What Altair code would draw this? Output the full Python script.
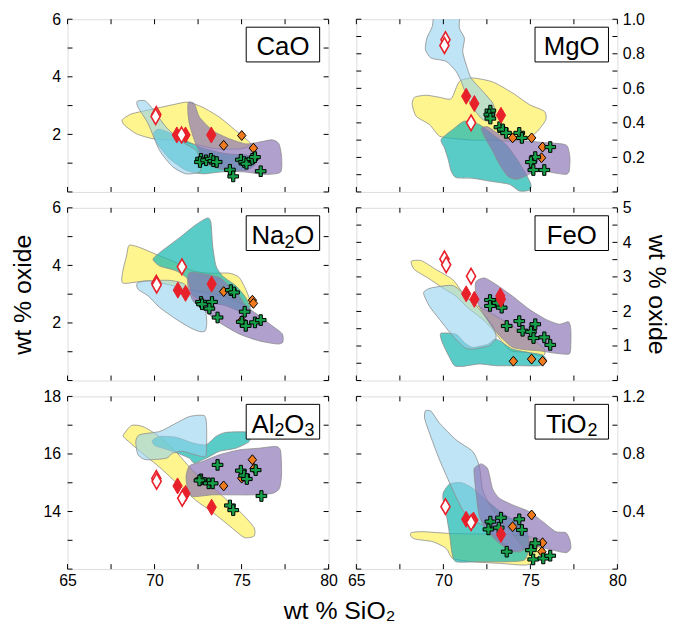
import json
import altair as alt
import pandas as pd

FONT = "Liberation Sans, Arial, Helvetica, sans-serif"

# ---------------- CaO ----------------
CAO_YELLOW = [(68.14,2.50),(68.67,2.71),(69.91,2.88),(71.05,3.03),(71.91,3.12),(72.77,2.94),(73.72,2.60),(74.67,2.13),(75.53,1.67),(74.96,1.50),(73.53,1.50),(72.58,1.62),(71.24,1.79),(69.91,1.85),(68.96,2.02),(68.29,2.31)]
CAO_BLUE = [(69.00,3.15),(69.44,3.17),(69.82,2.94),(70.67,2.25),(71.62,1.73),(72.39,1.44),(72.67,0.98),(72.58,0.69),(71.81,0.63),(71.05,0.87),(70.29,1.44),(69.63,2.37),(69.05,2.94)]
CAO_TEAL = [(69.97,2.08),(70.29,2.18),(71.24,1.96),(72.58,1.56),(74.10,1.33),(75.43,1.27),(75.81,0.98),(75.24,0.75),(73.72,0.69),(72.77,0.63),(71.81,0.75),(70.86,1.15),(70.29,1.56),(70.01,1.85)]
CAO_PURPLE = [(71.95,3.12),(72.29,3.06),(72.58,2.60),(73.34,2.13),(74.29,1.85),(75.24,1.67),(76.00,1.73),(76.76,1.81),(77.15,1.67),(77.30,1.21),(77.24,0.69),(76.38,0.61),(75.24,0.69),(74.10,0.75),(73.15,0.92),(72.67,1.27),(72.29,1.79),(72.00,2.37),(71.91,2.83)]
CAO_OPEN = [(70.10,2.69),(70.06,2.62),(71.55,1.98)]
CAO_RED = [(71.28,1.98),(71.78,1.98),(73.26,1.98)]
CAO_ORANGE = [(75.01,1.96),(73.97,1.62),(75.68,1.52),(75.72,1.15)]
CAO_GREEN = [(72.67,1.15),(72.61,1.04),(72.96,1.10),(73.24,1.15),(73.38,1.07),(73.57,1.04),(74.96,1.12),(75.15,1.04),(75.28,0.98),(75.62,1.15),(75.77,1.21),(74.33,0.77),(74.52,0.54),(76.10,0.72)]

# ---------------- MgO ----------------
MGO_YELLOW = [(68.21,0.506),(68.34,0.548),(69.01,0.560),(69.78,0.548),(70.45,0.540),(70.92,0.640),(71.69,0.660),(72.83,0.637),(73.98,0.573),(74.94,0.506),(75.80,0.467),(75.89,0.419),(75.41,0.352),(74.75,0.304),(73.79,0.294),(72.83,0.300),(71.69,0.300),(70.54,0.310),(69.78,0.323),(69.20,0.390),(68.44,0.438)]
MGO_BLUE = [(69.55,1.04),(70.85,1.04),(70.92,0.948),(71.21,0.890),(71.11,0.813),(71.31,0.737),(71.59,0.660),(72.26,0.583),(72.83,0.515),(72.99,0.448),(72.74,0.410),(72.26,0.419),(71.69,0.487),(71.31,0.563),(71.02,0.640),(70.73,0.698),(70.16,0.756),(69.30,0.775),(68.97,0.823),(69.05,0.890),(69.36,0.958)]
MGO_TEAL = [(69.87,0.304),(70.54,0.362),(71.21,0.410),(72.07,0.390),(72.83,0.333),(73.60,0.275),(74.17,0.198),(74.65,0.121),(75.03,0.044),(74.94,0.010),(74.36,0.006),(73.79,0.044),(72.64,0.063),(71.69,0.079),(70.73,0.083),(70.45,0.121),(70.25,0.198),(70.06,0.256)]
MGO_PURPLE = [(72.17,0.367),(72.55,0.377),(73.22,0.333),(73.98,0.304),(74.94,0.294),(75.89,0.285),(76.75,0.279),(77.13,0.265),(77.27,0.198),(77.23,0.121),(77.04,0.102),(76.27,0.112),(75.51,0.131),(74.74,0.092),(74.17,0.073),(73.69,0.092),(73.22,0.160),(72.83,0.237),(72.45,0.304)]
MGO_OPEN = [(70.12,0.881),(70.06,0.848),(71.59,0.400)]
MGO_RED = [(71.31,0.554),(71.78,0.512),(73.31,0.444)]
MGO_ORANGE = [(73.98,0.313),(75.07,0.313),(75.70,0.260),(75.64,0.198)]
MGO_GREEN = [(72.70,0.471),(72.64,0.448),(72.70,0.425),(73.22,0.375),(73.41,0.362),(73.60,0.342),(74.36,0.342),(74.51,0.313),(76.14,0.260),(75.28,0.202),(75.03,0.173),(75.17,0.127),(75.80,0.127)]

# ---------------- Na2O ----------------
NA2O_YELLOW = [(68.54,4.70),(69.15,4.62),(70.10,4.38),(71.24,4.10),(72.20,3.81),(73.15,3.73),(74.29,3.73),(74.86,3.58),(75.24,3.17),(75.53,2.71),(75.47,2.54),(74.86,2.71),(73.91,2.94),(72.96,3.06),(71.81,3.17),(70.67,3.35),(69.53,3.46),(68.20,3.38),(68.16,3.75),(68.39,4.33)]
NA2O_TEAL = [(73.05,5.65),(73.24,5.48),(73.34,4.67),(73.53,3.98),(73.91,3.63),(74.67,3.29),(75.24,2.88),(75.53,2.42),(75.05,2.37),(74.10,2.60),(73.15,2.71),(72.20,2.94),(71.91,3.52),(71.24,3.81),(70.29,3.98),(69.91,4.21),(70.29,4.44),(71.43,4.96),(72.39,5.42)]
NA2O_BLUE = [(69.00,3.38),(69.53,3.46),(70.86,3.48),(71.72,3.35),(72.10,2.94),(72.58,2.71),(72.92,2.42),(73.00,2.02),(72.92,1.73),(72.58,1.70),(72.00,1.85),(71.24,2.13),(70.29,2.54),(69.63,2.94),(69.05,3.17)]
NA2O_PURPLE = [(72.00,3.75),(72.96,3.69),(73.72,3.58),(74.10,3.40),(74.86,2.94),(75.24,2.60),(76.00,2.25),(76.76,1.90),(77.34,1.62),(77.37,1.33),(77.05,1.27),(76.00,1.38),(74.86,1.62),(73.72,2.02),(72.77,2.48),(72.20,2.77),(71.91,3.29)]
NA2O_OPEN = [(71.57,3.95),(70.10,3.38),(70.12,3.32)]
NA2O_RED = [(71.34,3.14),(71.78,3.03),(73.28,3.35)]
NA2O_ORANGE = [(73.97,3.09),(75.62,2.79),(75.68,2.68),(75.01,2.08)]
NA2O_GREEN = [(72.67,2.73),(72.73,2.65),(73.30,2.73),(73.15,2.50),(73.62,2.19),(74.38,3.14),(74.57,3.06),(75.18,2.39),(75.01,2.04),(75.24,1.90),(75.77,2.02),(76.10,2.10)]

# ---------------- FeO ----------------
FEO_YELLOW = [(68.15,3.45),(68.73,3.47),(69.59,3.21),(70.54,2.92),(71.11,2.54),(71.69,2.25),(72.83,1.92),(73.98,1.58),(75.13,1.20),(75.80,0.91),(75.74,0.72),(74.75,0.81),(73.89,0.86),(73.41,1.10),(72.83,1.48),(72.26,1.77),(71.40,2.11),(70.73,2.44),(69.97,2.68),(69.11,2.97),(68.34,3.21)]
FEO_TEAL = [(69.87,1.37),(70.73,1.34),(71.21,1.10),(71.69,0.96),(72.55,1.05),(73.03,1.20),(73.98,0.91),(74.94,0.81),(75.70,0.74),(75.93,0.57),(75.51,0.43),(74.36,0.43),(73.03,0.43),(72.07,0.48),(71.11,0.41),(70.64,0.43),(70.35,0.67),(70.06,0.96),(69.87,1.20)]
FEO_BLUE = [(68.86,2.54),(69.30,2.68),(70.54,2.75),(71.31,2.44),(72.07,2.06),(72.83,1.58),(73.03,1.24),(72.64,1.01),(71.69,0.91),(71.21,0.96),(70.54,1.29),(69.78,1.77),(69.20,2.15)]
FEO_PURPLE = [(71.88,2.87),(72.36,2.97),(73.03,2.78),(73.98,2.44),(74.94,2.06),(75.89,1.77),(76.66,1.63),(77.19,1.70),(77.32,1.48),(77.32,1.01),(77.23,0.77),(76.46,0.79),(75.51,0.86),(74.75,0.89),(73.98,0.96),(73.41,1.20),(72.83,1.53),(72.26,1.96),(71.97,2.25),(71.84,2.63)]
FEO_OPEN = [(70.06,3.52),(70.16,3.35),(71.59,3.02)]
FEO_RED = [(71.31,2.51),(71.78,2.35),(73.31,2.35),(73.27,2.45)]
FEO_ORANGE = [(74.02,0.56),(75.07,0.62),(75.70,0.56)]
FEO_GREEN = [(72.68,2.33),(72.68,2.16),(73.12,2.25),(73.35,2.11),(73.64,1.58),(74.36,1.72),(74.55,1.44),(75.03,1.41),(75.28,1.63),(75.18,1.23),(75.80,1.25),(76.14,1.03)]

# ---------------- Al2O3 ----------------
AL2O3_YELLOW = [(68.20,16.64),(68.67,16.99),(69.34,16.95),(70.29,16.60),(71.24,16.07),(72.20,15.42),(73.15,14.96),(74.10,14.43),(75.05,13.91),(75.72,13.44),(75.72,13.15),(75.15,13.10),(74.29,13.51),(73.34,13.97),(72.39,14.38),(71.43,14.90),(70.29,15.54),(69.34,16.00),(68.48,16.45)]
AL2O3_TEAL = [(69.87,16.47),(70.29,16.61),(71.24,16.58),(72.20,16.38),(72.96,16.32),(73.53,16.61),(74.10,16.75),(75.43,16.75),(75.43,16.43),(74.67,16.20),(73.72,16.09),(72.96,15.85),(72.29,15.68),(72.01,15.85),(71.24,16.05),(70.48,16.20),(70.01,16.29)]
AL2O3_BLUE = [(68.92,16.43),(69.15,16.67),(70.29,16.78),(71.05,17.01),(72.01,17.30),(72.86,17.33),(72.99,16.96),(72.96,15.97),(72.58,15.93),(71.62,16.09),(71.05,16.03),(70.67,15.85),(69.53,15.80),(69.05,15.97)]
AL2O3_PURPLE = [(72.01,15.59),(72.77,15.74),(73.72,15.97),(74.86,16.14),(76.00,16.20),(76.95,16.26),(77.24,16.12),(77.30,15.33),(77.18,14.81),(76.76,14.63),(75.62,14.58),(74.48,14.58),(73.34,14.58),(72.20,14.52),(71.91,14.75),(71.81,15.21)]
AL2O3_OPEN = [(70.10,15.15),(70.12,15.05),(71.59,14.46)]
AL2O3_RED = [(71.32,14.89),(71.78,14.63),(71.68,14.55),(73.28,14.15)]
AL2O3_ORANGE = [(75.62,15.80),(73.97,14.89),(75.01,15.16),(75.72,15.50)]
AL2O3_GREEN = [(73.62,15.62),(72.67,15.12),(72.58,15.08),(73.11,14.98),(73.34,14.98),(74.96,15.42),(75.15,15.25),(75.30,15.13),(75.81,15.44),(76.14,14.54),(74.33,14.21),(74.52,14.05)]

# ---------------- TiO2 ----------------
TIO2_YELLOW = [(68.15,0.253),(68.82,0.260),(70.35,0.248),(72.07,0.244),(73.60,0.244),(74.94,0.225),(75.60,0.202),(75.74,0.156),(75.32,0.063),(74.75,0.028),(73.22,0.040),(71.69,0.051),(70.54,0.074),(70.16,0.144),(69.40,0.190),(68.44,0.207),(68.15,0.225)]
TIO2_TEAL = [(70.02,0.538),(70.36,0.592),(71.02,0.601),(71.69,0.562),(72.45,0.480),(73.41,0.388),(74.36,0.318),(74.84,0.248),(74.90,0.144),(74.65,0.063),(73.60,0.051),(72.07,0.051),(70.73,0.051),(70.50,0.109),(70.35,0.248),(70.12,0.411),(69.97,0.492)]
TIO2_BLUE = [(68.97,1.100),(69.30,1.096),(69.78,1.014),(70.73,0.898),(71.69,0.817),(72.07,0.713),(72.26,0.550),(72.83,0.411),(73.79,0.272),(74.55,0.156),(74.46,0.121),(73.89,0.132),(73.03,0.225),(72.26,0.306),(71.59,0.341),(71.11,0.411),(70.54,0.550),(69.78,0.759),(69.20,0.945),(68.92,1.049)]
TIO2_PURPLE = [(71.78,0.701),(72.17,0.731),(72.55,0.696),(72.83,0.557),(73.22,0.492),(73.98,0.446),(74.94,0.399),(75.70,0.330),(76.46,0.260),(77.04,0.253),(77.27,0.202),(77.32,0.144),(77.04,0.114),(76.27,0.132),(75.32,0.156),(74.55,0.132),(73.98,0.121),(73.22,0.179),(72.55,0.260),(72.07,0.364),(71.88,0.527),(71.78,0.643)]
TIO2_OPEN = [(70.12,0.434),(71.59,0.323)]
TIO2_RED = [(71.31,0.346),(71.73,0.341),(73.31,0.241)]
TIO2_ORANGE = [(75.07,0.376),(73.98,0.295),(75.70,0.183),(75.66,0.121)]
TIO2_GREEN = [(72.70,0.330),(72.59,0.276),(73.31,0.357),(73.18,0.288),(74.36,0.346),(74.51,0.272),(75.28,0.179),(75.03,0.132),(73.64,0.121),(75.16,0.067),(75.74,0.074),(76.14,0.093)]

X_TICKS = [65, 67.5, 70, 72.5, 75, 77.5, 80]
X_LABELS = [65, 70, 75, 80]

# panel label pieces: (text, is_subscript)
PANELS = [
    dict(label=[("CaO", False)], domain=[0, 6], ticks=[0, 1, 2, 3, 4, 5, 6], labels=[2, 4, 6], fmt="d",
         polys=dict(yellow=CAO_YELLOW, teal=CAO_TEAL, blue=CAO_BLUE, purple=CAO_PURPLE),
         pts=dict(orange=CAO_ORANGE, green=CAO_GREEN, red=CAO_RED, open=CAO_OPEN)),
    dict(label=[("MgO", False)], domain=[0, 1.0], ticks=[0, 0.1, 0.2, 0.3, 0.4, 0.5, 0.6, 0.7, 0.8, 0.9, 1.0],
         labels=[0.2, 0.4, 0.6, 0.8, 1.0], fmt=".1f",
         polys=dict(yellow=MGO_YELLOW, teal=MGO_TEAL, blue=MGO_BLUE, purple=MGO_PURPLE),
         pts=dict(orange=MGO_ORANGE, green=MGO_GREEN, red=MGO_RED, open=MGO_OPEN)),
    dict(label=[("Na", False), ("2", True), ("O", False)], domain=[0, 6], ticks=[0, 1, 2, 3, 4, 5, 6],
         labels=[2, 4, 6], fmt="d",
         polys=dict(yellow=NA2O_YELLOW, teal=NA2O_TEAL, blue=NA2O_BLUE, purple=NA2O_PURPLE),
         pts=dict(orange=NA2O_ORANGE, green=NA2O_GREEN, red=NA2O_RED, open=NA2O_OPEN)),
    dict(label=[("FeO", False)], domain=[0, 5], ticks=[0, 0.5, 1, 1.5, 2, 2.5, 3, 3.5, 4, 4.5, 5],
         labels=[1, 2, 3, 4, 5], fmt="d",
         polys=dict(yellow=FEO_YELLOW, teal=FEO_TEAL, blue=FEO_BLUE, purple=FEO_PURPLE),
         pts=dict(orange=FEO_ORANGE, green=FEO_GREEN, red=FEO_RED, open=FEO_OPEN)),
    dict(label=[("Al", False), ("2", True), ("O", False), ("3", True)], domain=[12, 18],
         ticks=[12, 13, 14, 15, 16, 17, 18], labels=[14, 16, 18], fmt="d",
         polys=dict(yellow=AL2O3_YELLOW, teal=AL2O3_TEAL, blue=AL2O3_BLUE, purple=AL2O3_PURPLE),
         pts=dict(orange=AL2O3_ORANGE, green=AL2O3_GREEN, red=AL2O3_RED, open=AL2O3_OPEN)),
    dict(label=[("TiO", False), ("2", True)], domain=[0, 1.2], ticks=[0, 0.2, 0.4, 0.6, 0.8, 1.0, 1.2],
         labels=[0.4, 0.8, 1.2], fmt=".1f",
         polys=dict(yellow=TIO2_YELLOW, teal=TIO2_TEAL, blue=TIO2_BLUE, purple=TIO2_PURPLE),
         pts=dict(orange=TIO2_ORANGE, green=TIO2_GREEN, red=TIO2_RED, open=TIO2_OPEN)),
]

POLY_STYLE = [("yellow", "#FFEE44", 0.6), ("teal", "#1AB9B3", 0.72),
              ("blue", "#93D2EE", 0.6), ("purple", "#8973B5", 0.68)]

TALL_DIAMOND = "M0,-1L0.58,0L0,1L-0.58,0Z"
SMALL_DIAMOND = "M0,-1L0.85,0L0,1L-0.85,0Z"
PLUS = "M-0.3,-1H0.3V-0.3H1V0.3H0.3V1H-0.3V0.3H-1V-0.3H-0.3Z"
POINT_STYLE = [
    ("orange", dict(shape=SMALL_DIAMOND, fill="#F07A1E", stroke="black", strokeWidth=1, size=100)),
    ("green", dict(shape=PLUS, fill="#17A04A", stroke="black", strokeWidth=1, size=115)),
    ("red", dict(shape=TALL_DIAMOND, fill="#E8202A", stroke="#E8202A", strokeWidth=1, size=260)),
    ("open", dict(shape=TALL_DIAMOND, fill="white", stroke="#E8202A", strokeWidth=1.6, size=250)),
]

# approximate Arial/Liberation Sans advance widths (em)
CHAR_W = {"C": .722, "a": .556, "O": .778, "M": .833, "g": .556, "N": .722, "F": .611, "e": .556,
          "A": .667, "l": .222, "T": .611, "i": .222, "2": .556, "3": .556}
MAIN_FS, SUB_FS = 26, 18

W, H = 263, 174
TICK = 5


def x_axis(show_labels):
    kw = dict(orient="bottom", values=X_TICKS, domain=False, grid=False, ticks=False, tickSize=0,
              labels=show_labels)
    if show_labels:
        kw.update(labelExpr="indexof(%s, datum.value) >= 0 ? format(datum.value, 'd') : ''" % json.dumps(X_LABELS),
                  labelFont=FONT, labelFontSize=16, labelColor="black", labelPadding=4,
                  labelFlush=False, labelOverlap=False)
    return alt.Axis(**kw)


def y_axis(orient, p, title):
    kw = dict(orient=orient, values=p["ticks"], domain=False, grid=False, ticks=False, tickSize=0,
              labels=True,
              labelExpr="indexof(%s, datum.value) >= 0 ? format(datum.value, '%s') : ''" % (json.dumps(p["labels"]), p["fmt"]),
              labelFont=FONT, labelFontSize=16, labelColor="black",
              labelPadding=7 if orient == "left" else 5, labelFlush=False, labelOverlap=False)
    if title:
        kw.update(titleFont=FONT, titleFontSize=25, titleFontWeight="normal", titleColor="black",
                  titlePadding=16 if orient == "left" else 12)
    return alt.Axis(**kw)


def to_df(pts):
    return pd.DataFrame({"x": [a for a, b in pts], "y": [b for a, b in pts], "i": list(range(len(pts)))})


def label_layers(parts):
    widths = [sum(CHAR_W[c] for c in t) * (SUB_FS if sub else MAIN_FS) for t, sub in parts]
    x0 = 217 - sum(widths) / 2
    out = []
    for (t, sub), w in zip(parts, widths):
        df = pd.DataFrame({"t": [t]})
        out.append(
            alt.Chart(df).mark_text(font=FONT, fontSize=SUB_FS if sub else MAIN_FS, color="black",
                                    align="left", baseline="alphabetic")
            .encode(x=alt.value(x0), y=alt.value(40 if sub else 36.5), text="t:N")
        )
        x0 += w
    return out


def panel(p, row, col):
    xs = alt.Scale(domain=[65, 80], nice=False, zero=False)
    ys = alt.Scale(domain=p["domain"], nice=False, zero=False)
    main_side = "left" if col == 0 else "right"
    title = "wt % oxide" if row == 1 else None
    layers = []
    for k, (name, color, op) in enumerate(POLY_STYLE):
        df = to_df(p["polys"][name])
        if k == 0:
            xe = alt.X("x:Q", scale=xs, axis=x_axis(row == 2), title=None)
            ye = alt.Y("y:Q", scale=ys, axis=y_axis(main_side, p, title), title=title)
        else:
            xe = alt.X("x:Q", scale=xs, axis=None)
            ye = alt.Y("y:Q", scale=ys, axis=None)
        layers.append(
            alt.Chart(df).mark_line(interpolate="cardinal-closed", tension=0.35, fill=color,
                                    fillOpacity=op, stroke="#8c8c8c", strokeWidth=0.8, clip=True)
            .encode(x=xe, y=ye, order=alt.Order("i:Q"))
        )
    for name, st in POINT_STYLE:
        df = to_df(p["pts"][name])
        layers.append(
            alt.Chart(df).mark_point(filled=True, opacity=1, **st)
            .encode(x=alt.X("x:Q", scale=xs, axis=None), y=alt.Y("y:Q", scale=ys, axis=None))
        )
    # inward tick marks on all four sides, placed through the scales
    ydf = pd.DataFrame({"v": p["ticks"]})
    xdf = pd.DataFrame({"v": X_TICKS})
    for a, b in [(0, TICK), (W - TICK, W)]:
        layers.append(
            alt.Chart(ydf).mark_rule(color="black", strokeWidth=1)
            .encode(y=alt.Y("v:Q", scale=ys, axis=None), x=alt.value(a), x2=alt.value(b))
        )
    for a, b in [(H - TICK, H), (0, TICK)]:
        layers.append(
            alt.Chart(xdf).mark_rule(color="black", strokeWidth=1)
            .encode(x=alt.X("v:Q", scale=xs, axis=None), y=alt.value(a), y2=alt.value(b))
        )
    box = pd.DataFrame({"t": ["box"]})
    layers.append(
        alt.Chart(box).mark_rect(fill="white", stroke="black", strokeWidth=1)
        .encode(x=alt.value(180), x2=alt.value(254), y=alt.value(8), y2=alt.value(43))
    )
    layers.extend(label_layers(p["label"]))
    return alt.layer(*layers).resolve_axis(x="independent", y="independent").properties(width=W, height=H)


panels = [panel(p, i // 2, i % 2) for i, p in enumerate(PANELS)]

chart = alt.ConcatChart(
    concat=panels, columns=2, spacing={"row": 16, "column": 28}, bounds="flush",
    title=alt.TitleParams(text="wt % SiO₂", orient="bottom", anchor="middle", font=FONT,
                          fontSize=25, fontWeight="normal", color="black", offset=10),
).configure_view(stroke="black", strokeWidth=1).configure(
    background="white", padding={"left": 2, "top": 0, "right": 2, "bottom": 0}
)

chart.save("out.html", embed_options={"renderer": "svg", "actions": False})
